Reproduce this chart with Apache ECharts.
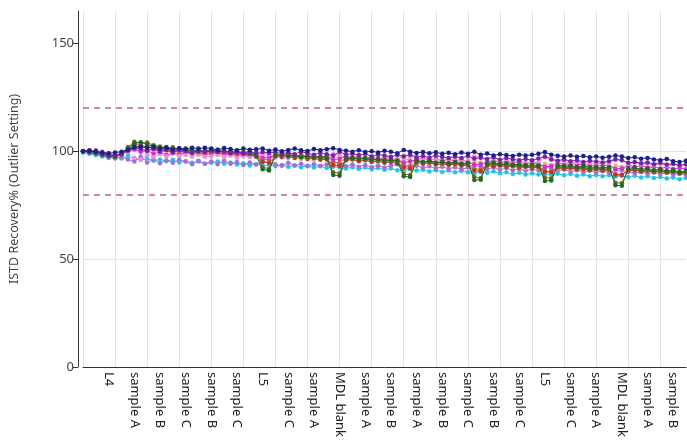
<!DOCTYPE html>
<html><head><meta charset="utf-8">
<script src="https://cdn.jsdelivr.net/npm/echarts@6/dist/echarts.min.js"></script>
<style>html,body{margin:0;padding:0;background:#fff}#c{width:687px;height:440px}</style>
</head><body><div id="c"></div>
<script>
// tick labels shown every 4th sample (sample index 4, 8, ... 92)
const tickLabels = ["L4","sample A","sample B","sample C","sample B","sample C","L5","sample C","sample A","MDL blank","sample A","sample B","sample A","sample B","sample C","sample B","sample C","L5","sample C","sample A","MDL blank","sample A","sample B"];
const yTicks = [0, 50, 100, 150];
const limits = [120, 80];

const cyan = [99.4,98.8,98.2,97.6,96.8,97.4,96.6,97.8,96.4,96.0, 96.6,95.6,96.2,95.4,96.0,94.8,95.4,94.6,95.2,94.2, 94.6,95.2,94.2,94.8,93.8,94.4,93.4,94.0,93.2,93.6, 93.0,93.6,92.8,93.4,92.6,93.2,92.4,93.0,92.2,92.8, 92.4,92.0,92.6,91.8,92.4,91.6,92.2,91.4,92.0,91.2, 91.0,91.6,91.0,91.4,90.6,91.2,90.4,91.0,90.2,90.8, 90.2,89.8,90.4,90.0,90.6,89.8,90.2,89.4,90.0,89.2, 89.8,89.2,89.6,89.0,89.6,88.8,89.4,88.6,89.2,88.4, 89.0,88.4,88.8,88.2,88.6,88.0,88.6,87.8,88.4,87.6, 88.0,87.4,87.8,87.0,87.6];
const lavender = [100,99.2,98.6,98.0,97.2,96.6,97.4,96.2,95.2,97.6, 94.8,96.2,94.4,95.8,94.6,96.0,95.2,94.0,95.6,94.2, 95.2,94.0,95.6,94.2,95.0,93.6,94.8,93.8,95.4,94.6, 94.0,93.2,94.6,93.4,94.2,93.0,94.0,93.2,93.8,94.8, 94.2,93.0,93.8,92.8,93.6,92.6,93.4,92.4,93.2,94.0, 93.6,92.6,93.2,92.2,93.0,92.0,92.8,91.8,92.6,91.6, 92.4,93.4,92.8,91.8,92.4,91.4,92.2,91.2,91.8,91.0, 91.6,91.2,92.6,92.0,91.0,91.6,90.6,91.2,90.4,91.0, 90.2,90.8,90.0,91.4,91.0,90.4,89.8,90.4,89.6,90.2, 89.4,90.0,89.2,89.8,89.0];
const peach = [100,99.8,100.2,99.4,98.8,98.4,99.2,100.0,101.2,100.6, 101.0,100.2,99.6,100.0,99.2,99.6,98.8,99.2,98.4,98.8, 99.2,98.4,98.8,98.0,98.4,97.6,98.0,97.2,98.2,97.8, 97.0,97.6,96.8,97.2,96.4,96.8,96.0,96.6,95.8,97.4, 97.0,95.8,96.4,95.6,96.0,95.2,95.8,95.0,95.4,94.8, 96.4,96.0,94.8,95.2,94.4,94.8,94.0,94.6,93.8,94.2, 93.6,95.2,94.8,93.4,93.8,93.0,93.6,92.8,93.2,92.4, 92.8,92.2,94.2,93.6,92.0,92.6,91.8,92.4,91.6,92.0, 91.4,91.8,91.2,93.2,92.8,91.0,91.6,90.8,91.2,90.4, 90.8,90.2,90.6,89.8,90.4];
const brown = [100,100.2,99.6,98.8,98.2,97.8,98.6,100.2,103.2,102.8, 102.0,101.6,100.8,101.2,100.4,100.8,100.0,100.4,99.6,100.0, 100.4,99.6,100.0,99.2,99.6,98.8,99.2,98.4,96.4,96.0, 98.6,98.0,98.4,97.6,98.0,97.2,97.6,96.8,97.2,95.0, 94.6,97.0,96.6,97.0,96.2,96.6,95.8,96.2,95.4,95.8, 93.6,93.2,95.6,95.0,95.4,94.6,95.0,94.2,94.6,93.8, 94.2,92.0,91.6,94.0,93.6,94.0,93.2,93.6,92.8,93.2, 92.6,93.0,91.0,90.6,92.8,92.2,92.6,91.8,92.2,91.4, 91.8,91.2,91.6,89.2,89.0,91.0,91.4,90.6,91.0,90.2, 90.6,90.0,90.4,89.6,90.0];
const red = [100,99.6,99.8,98.8,98.2,97.8,98.6,100.8,102.6,101.6, 102.2,101.0,100.4,100.8,99.8,100.2,99.4,99.8,99.0,99.4, 99.8,99.0,99.4,98.6,99.0,98.2,98.6,97.6,95.0,94.6, 97.8,97.2,97.6,96.8,97.2,96.4,96.8,96.0,96.4,93.6, 93.2,95.8,96.2,95.4,95.8,95.0,95.4,94.6,95.0,94.2, 92.4,92.0,94.8,94.2,94.6,93.8,94.2,93.6,94.0,93.2, 93.6,91.0,90.8,93.4,93.0,93.4,92.8,93.0,92.4,92.8, 92.2,92.6,90.4,90.2,92.4,91.8,92.2,91.6,91.8,91.2, 91.6,91.0,91.4,89.2,89.0,91.0,91.2,90.6,91.0,90.4, 90.8,90.2,90.6,89.8,90.4];
const magenta = [100,100.4,99.4,99.8,98.6,98.2,98.8,99.6,100.8,99.8, 100.2,98.8,99.6,98.2,99.0,98.6,99.4,98.8,99.6,98.4, 98.8,99.6,98.4,99.0,98.2,98.8,97.8,98.4,96.8,97.2, 98.2,97.6,98.4,97.8,98.2,97.4,98.0,97.2,97.8,96.2, 96.4,97.8,97.0,97.6,96.8,97.4,96.4,97.0,96.6,96.0, 94.8,95.2,96.2,96.8,95.8,96.4,95.6,96.2,95.4,96.0, 95.2,93.8,94.0,95.0,95.6,94.8,95.2,94.4,95.0,94.2, 94.8,94.0,92.8,93.0,94.6,93.8,94.4,93.6,94.0,93.2, 93.8,93.2,93.6,91.8,92.0,93.4,92.8,93.2,92.4,92.8, 92.0,92.6,91.8,92.2,91.6];
const pink = [100,99.8,100.4,99.4,98.8,98.2,98.8,99.6,97.0,96.2, 98.4,97.2,98.6,97.6,98.8,97.8,98.4,97.6,98.6,97.4, 97.6,98.6,97.4,98.2,97.0,98.0,97.2,97.8,99.0,98.6, 97.4,98.0,97.0,97.8,96.8,97.6,96.6,97.4,96.8,98.6, 98.2,96.8,97.4,96.6,97.2,96.2,97.0,96.4,96.8,96.2, 98.0,97.6,96.8,96.0,96.6,95.8,96.4,95.6,96.2,95.4, 95.8,97.6,97.2,95.2,96.0,95.0,95.6,94.8,95.4,94.6, 95.2,94.8,97.2,96.6,94.8,95.4,94.4,95.0,94.2,94.8, 94.0,94.6,94.2,96.4,95.8,94.2,94.8,93.8,94.4,93.6, 94.2,93.4,94.0,93.2,93.8];
const olive = [100,100.4,99.4,98.6,98.0,97.6,98.8,101.8,104.4,103.8, 104.0,102.8,102.2,101.4,101.8,100.6,101.2,100.0,100.8,99.6, 100.0,100.8,99.6,100.2,99.2,99.8,98.6,99.4,92.6,91.8, 98.4,97.8,98.6,97.6,98.2,97.2,97.8,96.8,97.4,90.2, 89.8,97.2,96.4,97.0,96.0,96.6,95.6,96.2,95.4,95.8, 89.4,89.0,95.6,94.8,95.4,94.4,95.0,94.2,94.8,94.0, 94.4,88.0,87.6,94.6,93.8,94.2,93.4,93.8,93.0,93.6, 92.8,93.4,87.8,87.4,93.0,92.4,93.0,92.2,92.6,91.8, 92.4,91.6,92.0,85.4,85.2,91.4,91.8,91.0,91.4,90.6, 91.0,90.2,90.6,89.8,90.2];
const green = [100,99.6,99.0,98.4,97.8,97.4,98.6,101.4,103.6,104.2, 103.0,102.4,101.6,102.0,100.8,101.4,100.2,100.6,99.8,100.2, 100.6,99.8,100.2,99.4,99.8,98.8,99.2,97.8,91.6,91.0, 97.8,98.4,97.6,98.0,97.2,97.8,96.8,97.4,96.6,89.0, 88.6,96.4,97.0,96.2,96.8,95.8,96.4,95.6,96.0,95.2, 88.4,88.0,95.8,95.0,95.6,94.6,95.2,94.4,95.0,94.2, 94.6,86.6,86.8,94.2,94.8,93.8,94.4,93.6,94.0,93.2, 93.8,93.2,86.2,86.4,93.6,93.0,93.4,92.6,93.2,92.4, 92.8,92.2,92.6,84.2,84.0,92.0,92.4,91.6,92.0,91.2, 91.6,90.8,91.2,90.4,90.8];
const purple = [100,99.6,100.2,99.0,98.4,98.0,98.8,100.2,101.6,101.0, 100.2,101.2,99.8,100.6,99.4,100.8,100.0,99.2,100.4,99.6, 100.4,99.6,100.2,99.0,99.8,99.2,100.0,98.8,99.6,99.2, 99.6,98.8,99.4,98.6,99.8,99.0,98.4,99.2,98.6,98.0, 99.8,98.4,98.8,98.2,98.8,97.6,98.4,98.0,97.4,98.2, 97.6,98.4,97.2,97.8,97.0,98.0,97.4,96.8,97.6,96.8, 97.8,96.6,97.0,96.4,97.2,96.0,96.8,96.2,95.8,96.4, 95.8,96.6,97.6,96.2,95.6,96.2,95.4,95.8,95.0,95.6, 95.2,94.8,95.4,96.2,95.8,94.6,95.0,94.4,94.8,94.0, 94.6,93.8,94.2,93.4,94.0];
const navy = [100,100.2,99.8,99.4,99.0,99.4,99.8,100.6,101.8,102.2, 101.6,101.9,101.2,101.6,100.8,101.4,101.0,101.6,101.2,101.6, 101.2,100.6,101.5,101.0,100.4,101.2,100.7,100.9,101.3,100.2, 100.8,100.0,100.6,101.2,100.4,100.1,101.0,100.5,100.9,101.4, 100.6,100.2,99.8,100.5,99.6,100.0,99.4,100.2,99.7,99.0, 100.6,99.8,99.2,99.6,99.0,99.5,98.8,99.3,98.6,99.4, 98.8,99.8,98.4,98.9,98.0,98.6,98.2,97.8,98.4,98.0, 98.3,98.8,99.6,98.4,97.9,97.5,98.0,97.4,97.8,97.2, 97.6,97.0,97.4,98.0,97.6,96.8,97.2,96.5,96.9,96.2, 95.8,96.4,95.4,95.0,95.6];

const seriesDefs = [
  ['cyan', cyan, '#22c7dd'],
  ['lavender', lavender, '#a56be0'],
  ['peach', peach, '#e3b08a'],
  ['brown', brown, '#b8742e'],
  ['red', red, '#c62f2f'],
  ['magenta', magenta, '#d12fd1'],
  ['pink', pink, '#ec8fd2'],
  ['olive', olive, '#6e6a1c'],
  ['green', green, '#1f6b21'],
  ['purple', purple, '#7a1fa6'],
  ['navy', navy, '#1b1f8e']
];

const N = navy.length;
const cats = Array.from({length: N}, (_, i) => String(i));
function labelFor(i) { return (i >= 4 && i % 4 === 0) ? (tickLabels[i / 4 - 1] || '') : ''; }

const series = seriesDefs.map(([name, data, color], k) => ({
  name, type: 'line', data,
  symbol: 'circle', symbolSize: 4.5,
  showSymbol: true, showAllSymbol: true,
  lineStyle: { width: 1, color },
  itemStyle: { color },
  emphasis: { disabled: true },
  animation: false,
  z: 2 + k
}));
series[0].markLine = {
  silent: true, symbol: ['none', 'none'], label: { show: false },
  lineStyle: { type: [6, 5], color: '#c4607a', width: 1.5 },
  data: limits.map(v => ({ yAxis: v }))
};

const chart = echarts.init(document.getElementById('c'), null, { renderer: 'canvas' });
chart.setOption({
  backgroundColor: '#fff',
  animation: false,
  textStyle: { fontFamily: 'Noto Sans' },
  grid: { left: 81, right: 1, top: 11, bottom: 71, containLabel: false },
  xAxis: {
    type: 'category', data: cats, boundaryGap: false,
    axisLine: { lineStyle: { color: '#333', width: 1 } },
    axisTick: { show: false },
    axisLabel: {
      interval: (i) => labelFor(i) !== '',
      formatter: (v, i) => labelFor(Number(v)),
      rotate: -90, margin: 5, color: '#222', fontSize: 13, fontFamily: 'Noto Sans'
    },
    splitLine: { show: true, interval: (i) => i % 5 === 0, lineStyle: { color: '#e3e3e3', width: 1 } }
  },
  yAxis: {
    type: 'value', min: 0, max: 165, interval: 50, offset: 5,
    name: 'ISTD Recovery% (Outlier Setting)', nameLocation: 'middle', nameGap: 57,
    nameTextStyle: { color: '#444', fontSize: 12.5, fontFamily: 'Noto Sans' },
    axisLine: { show: true, lineStyle: { color: '#333', width: 1 } },
    axisTick: { show: true, length: 5, lineStyle: { color: '#333' }, customValues: yTicks },
    axisLabel: { color: '#444', fontSize: 13, margin: 4, customValues: yTicks, fontFamily: 'Noto Sans' },
    splitLine: { show: true, showMaxLine: false, lineStyle: { color: '#e3e3e3', width: 1 } }
  },
  series
});
</script>
</body></html>
